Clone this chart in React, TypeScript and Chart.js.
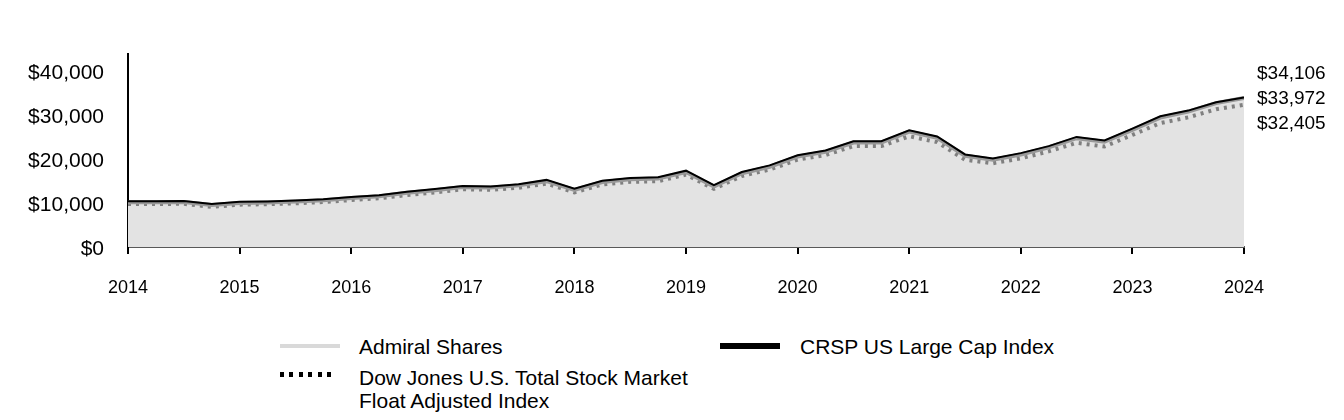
import React, { useEffect, useRef } from "react";
import { Chart, registerables } from "chart.js";

Chart.register(...registerables);

const FONT = "'Liberation Sans', Arial, Helvetica, sans-serif";

const START_YEAR = 2014;
const END_YEAR = 2024;
const QUARTERS_PER_YEAR = 4;

const seriesNames = [
  "CRSP US Large Cap Index",
  "Admiral Shares",
  "Dow Jones U.S. Total Stock Market Float Adjusted Index",
];

const crspValues = [
  10450, 10450, 10500, 9800, 10300, 10400, 10600, 10900, 11400, 11800,
  12600, 13200, 13900, 13800, 14300, 15300, 13300, 15100, 15750, 15900,
  17400, 14100, 17100, 18600, 20900, 22000, 24100, 24100, 26600, 25200,
  21100, 20200, 21400, 23000, 25100, 24300, 27000, 29800, 31100, 33000,
  34106,
];

const admiralValues = [
  10200, 10200, 10250, 9550, 10050, 10150, 10350, 10650, 11150, 11550,
  12350, 12950, 13650, 13550, 14050, 15000, 13000, 14800, 15450, 15600,
  17100, 13800, 16800, 18300, 20600, 21700, 23800, 23800, 26300, 24900,
  20800, 19900, 21100, 22700, 24800, 24000, 26700, 29500, 30850, 32800,
  33972,
];

const dowJonesValues = [
  9800, 9800, 9850, 9150, 9650, 9750, 9950, 10250, 10700, 11100,
  11850, 12450, 13150, 13050, 13500, 14450, 12450, 14250, 14850, 15000,
  16500, 13250, 16200, 17650, 19900, 20950, 23000, 23000, 25250, 23900,
  19900, 19100, 20200, 21800, 23750, 22900, 25550, 28250, 29550, 31400,
  32405,
];

const yTickValues = [0, 10000, 20000, 30000, 40000];
const Y_MAX = 44000;

const toPoints = (values: number[]) =>
  values.map((v, i) => ({ x: START_YEAR + i / QUARTERS_PER_YEAR, y: v }));

const fmtMoney = (v: number) => "$" + Math.round(v).toLocaleString("en-US");

const endLabelsPlugin = {
  id: "endLabels",
  afterDatasetsDraw(chart: any) {
    const { ctx, chartArea, scales } = chart;
    const lasts: number[] = chart.data.datasets
      .map((d: any) => d.data[d.data.length - 1].y)
      .sort((a: number, b: number) => b - a);
    const mid = scales.y.getPixelForValue(lasts[1]);
    ctx.save();
    ctx.font = `19px ${FONT}`;
    ctx.fillStyle = "#000";
    ctx.textAlign = "left";
    ctx.textBaseline = "middle";
    lasts.forEach((v, i) => {
      ctx.fillText(fmtMoney(v), chartArea.right + 13, mid + 1 + (i - 1) * 25);
    });
    ctx.restore();
  },
};

export default function App() {
  const canvasRef = useRef<HTMLCanvasElement | null>(null);

  useEffect(() => {
    if (!canvasRef.current) return;
    const chart = new Chart(canvasRef.current, {
      type: "line",
      data: {
        datasets: [
          {
            label: seriesNames[0],
            data: toPoints(crspValues),
            borderColor: "#000000",
            borderWidth: 2,
            pointRadius: 0,
            fill: false,
            tension: 0,
          },
          {
            label: seriesNames[1],
            data: toPoints(admiralValues),
            borderColor: "#999999",
            borderWidth: 4,
            backgroundColor: "#e3e3e3",
            pointRadius: 0,
            fill: "origin",
            tension: 0,
          },
          {
            label: seriesNames[2],
            data: toPoints(dowJonesValues),
            borderColor: "#808080",
            borderWidth: 4,
            borderDash: [3, 5],
            pointRadius: 0,
            fill: false,
            tension: 0,
          },
        ],
      },
      options: {
        responsive: false,
        animation: false,
        layout: { padding: { top: 46, right: 92, left: 0, bottom: 11 } },
        plugins: {
          legend: { display: false },
          tooltip: { enabled: false },
          filler: { drawTime: "beforeDatasetsDraw" },
        } as any,
        scales: {
          x: {
            type: "linear",
            min: START_YEAR,
            max: END_YEAR,
            afterFit: (s: any) => {
              s.height = 60;
            },
            ticks: {
              stepSize: 1,
              color: "#000",
              font: { family: FONT, size: 18 },
              padding: 23,
              maxRotation: 0,
              callback: (v: any) => String(v),
            },
            grid: {
              display: true,
              drawOnChartArea: false,
              drawTicks: true,
              tickLength: 7,
              color: "#000",
              lineWidth: 2,
            },
            border: { display: true, color: "#595959", width: 2 },
          },
          y: {
            min: 0,
            max: Y_MAX,
            afterFit: (s: any) => {
              s.width = 120;
            },
            afterBuildTicks: (s: any) => {
              s.ticks = yTickValues.map((v) => ({ value: v }));
            },
            ticks: {
              color: "#000",
              font: { family: FONT, size: 21 },
              padding: 24,
              labelOffset: 2,
              callback: (v: any) => fmtMoney(Number(v)),
            },
            grid: { display: false, drawTicks: false },
            border: { display: true, color: "#000", width: 2 },
          },
        },
      },
      plugins: [endLabelsPlugin],
    } as any);
    return () => chart.destroy();
  }, []);

  const textStyle: React.CSSProperties = {
    position: "absolute",
    fontFamily: FONT,
    fontSize: 21,
    lineHeight: "23px",
    color: "#000",
    whiteSpace: "nowrap",
  };

  return (
    <div style={{ position: "relative", width: 1328, height: 404 }}>
      <canvas ref={canvasRef} width={1328} height={310} style={{ display: "block" }} />
      <div style={{ position: "absolute", left: 272, top: 336, width: 60, height: 4, background: "#d9d9d9" }} />
      <div style={{ ...textStyle, left: 351, top: 327 }}>{seriesNames[1]}</div>
      <div style={{ position: "absolute", left: 712, top: 335, width: 60, height: 6, background: "#000" }} />
      <div style={{ ...textStyle, left: 792, top: 327 }}>{seriesNames[0]}</div>
      <div
        style={{
          position: "absolute",
          left: 272,
          top: 364,
          width: 52,
          height: 5,
          background: "repeating-linear-gradient(to right, #000 0px, #000 4px, transparent 4px, transparent 9.4px)",
        }}
      />
      <div style={{ ...textStyle, left: 351, top: 358 }}>
        Dow Jones U.S. Total Stock Market
        <br />
        Float Adjusted Index
      </div>
    </div>
  );
}
